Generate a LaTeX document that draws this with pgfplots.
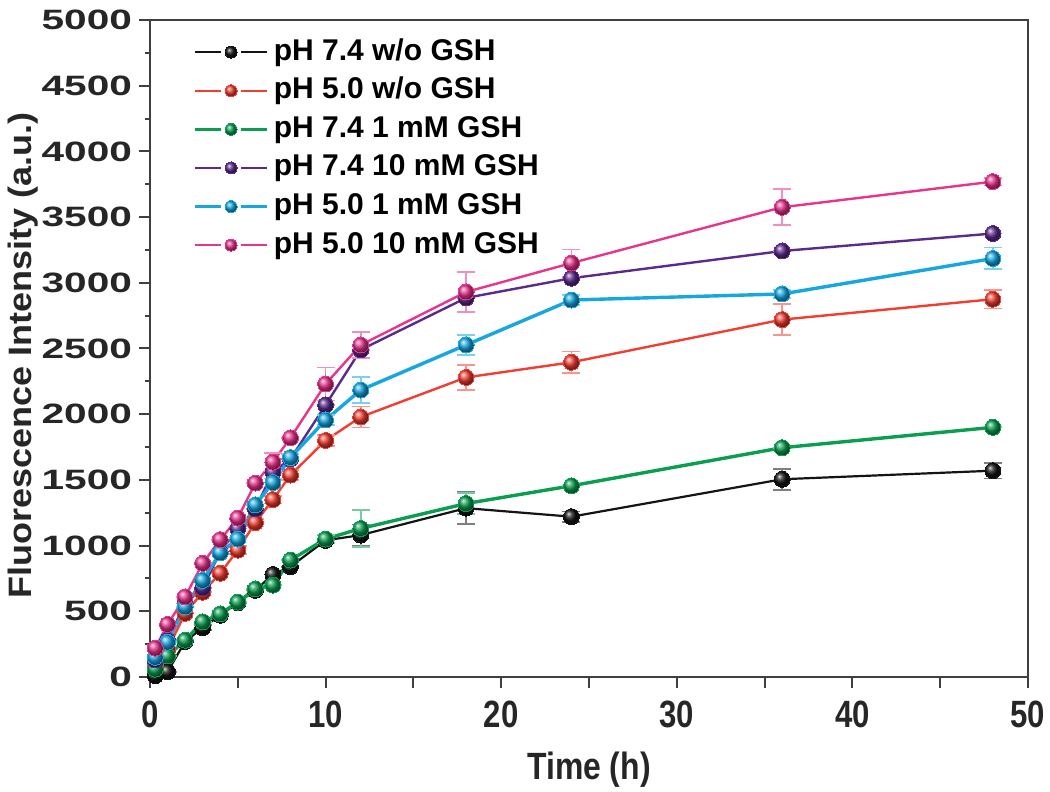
\documentclass[border=0pt]{standalone}
\usepackage{pgfplots}
\usepackage{pgfplotstable}
\pgfplotsset{compat=1.18}
\usepackage{fontspec}
\setmainfont{Liberation Sans}
\usetikzlibrary{shadings}

\definecolor{cblack}{RGB}{20,20,20}
\definecolor{cred}{RGB}{242,62,50}
\definecolor{cgreen}{RGB}{10,158,80}
\definecolor{cpurple}{RGB}{92,42,140}
\definecolor{ccyan}{RGB}{22,166,224}
\definecolor{cpink}{RGB}{232,52,140}

\pgfplotstableread{
x y e
0.3 10 0
1 40 0
2 270 0
3 375 20
4 470 0
5 565 0
6 660 0
7 780 0
8 840 0
10 1040 0
12 1080 80
18 1285 120
24 1220 40
36 1505 80
48 1570 60
}\tblack
\pgfplotstableread{
x y e
0.3 90 0
1 210 0
2 485 0
3 645 0
4 790 0
5 966 30
6 1175 30
7 1350 30
8 1537 40
10 1800 40
12 1979 80
18 2280 95
24 2395 82
36 2720 120
48 2875 70
}\tred
\pgfplotstableread{
x y e
0.3 60 0
1 160 0
2 280 0
3 420 0
4 480 0
5 570 0
6 670 0
7 700 0
8 890 0
10 1050 30
12 1130 140
18 1320 80
24 1455 0
36 1745 0
48 1900 0
}\tgreen
\pgfplotstableread{
x y e
0.3 130 0
1 280 0
2 560 0
3 680 0
4 950 0
5 1130 0
6 1280 0
7 1560 0
8 1660 0
10 2070 0
12 2490 0
18 2885 0
24 3035 0
36 3242 0
48 3375 0
}\tpurple
\pgfplotstableread{
x y e
0.3 150 0
1 265 0
2 535 0
3 735 0
4 945 0
5 1050 0
6 1310 0
7 1480 30
8 1670 30
10 1956 40
12 2184 100
18 2527 76
24 2869 40
36 2915 30
48 3185 83
}\tcyan
\pgfplotstableread{
x y e
0.3 220 0
1 400 0
2 610 0
3 865 0
4 1045 0
5 1210 0
6 1476 0
7 1636 70
8 1820 0
10 2230 125
12 2527 100
18 2930 152
24 3150 103
36 3575 137
48 3770 30
}\tpink

\pgfplotsset{
  ser/.style 2 args={
    color=#1, line width=#2, mark=ball, mark size=4pt,
    mark options={ball color=#1, line width=0pt},
    error bars/.cd, y dir=both, y explicit,
    error bar style={color=#1!55, line width=0.9pt},
    error mark options={color=#1!55, line width=0.9pt, mark size=4.5pt, rotate=90},
  }
}

\begin{document}
\begin{tikzpicture}
\useasboundingbox (-75pt,-57.5pt) rectangle (450pt,338.5pt);
\begin{axis}[
  scale only axis,
  width=439pt, height=328.5pt,
  at={(0,0)}, anchor=south west,
  xmin=0, xmax=50, ymin=0, ymax=5000,
  xtick={0,10,20,30,40,50},
  extra x ticks={5,15,25,35,45},
  extra x tick labels={},
  ytick={0,500,...,5000},
  minor y tick num=1,
  tick align=outside,
  xtick pos=bottom, ytick pos=left,
  major tick length=5.5pt,
  minor tick length=2.5pt,
  axis line style={draw=black!75, line width=1pt},
  every tick/.style={draw=black!75, line width=1pt},
  /pgf/number format/assume math mode=true,
  /pgf/number format/1000 sep={},
  yticklabel={\scalebox{1.45}[1]{\pgfmathprintnumber{\tick}}},
  xticklabel={\scalebox{0.82}[1]{\pgfmathprintnumber{\tick}}},
  yticklabel style={font=\bfseries\fontsize{14}{14}\selectfont, color=black!85},
  xticklabel style={font=\bfseries\fontsize{19}{19}\selectfont, color=black!85, yshift=-3pt},
  xlabel={\scalebox{0.84}[1]{Time (h)}},
  ylabel={\scalebox{1}[0.9]{Fluorescence Intensity (a.u.)}},
  every axis x label/.style={at={(axis description cs:0.5,-0.1416)}, anchor=center, font=\bfseries\fontsize{19}{19}\selectfont, color=black!85},
  every axis y label/.style={at={(axis description cs:-0.145,0.49)}, rotate=90, anchor=center, font=\bfseries\fontsize{18}{18}\selectfont, color=black!85},
  legend cell align=left,
  legend style={draw=none, fill=none, at={(axis description cs:0.049,0.976)}, anchor=north west,
    inner sep=0pt, row sep=3.3pt,
    font=\bfseries\fontsize{15}{15}\selectfont,
    nodes={text height=11pt, text depth=3pt, inner sep=1pt},
    /tikz/every odd column/.append style={column sep=1.5pt}},
  legend image code/.code={%
    \draw[#1, mark=none] (0pt,0pt) -- (13pt,0pt);
    \draw[#1, mark=none] (23pt,0pt) -- (36pt,0pt);
    \draw[#1, mark size=3pt] plot coordinates {(18pt,0pt)};
  },
]
\addplot[ser={cblack}{1.1pt}] table[x=x, y=y, y error=e] {\tblack};
\addlegendentry{pH 7.4 w/o GSH}
\addplot[ser={cred}{1.2pt}] table[x=x, y=y, y error=e] {\tred};
\addlegendentry{pH 5.0 w/o GSH}
\addplot[ser={cgreen}{1.7pt}] table[x=x, y=y, y error=e] {\tgreen};
\addlegendentry{pH 7.4 1 mM GSH}
\addplot[ser={cpurple}{1.2pt}] table[x=x, y=y, y error=e] {\tpurple};
\addlegendentry{pH 7.4 10 mM GSH}
\addplot[ser={ccyan}{1.7pt}] table[x=x, y=y, y error=e] {\tcyan};
\addlegendentry{pH 5.0 1 mM GSH}
\addplot[ser={cpink}{1.2pt}] table[x=x, y=y, y error=e] {\tpink};
\addlegendentry{pH 5.0 10 mM GSH}
\end{axis}
\end{tikzpicture}
\end{document}
